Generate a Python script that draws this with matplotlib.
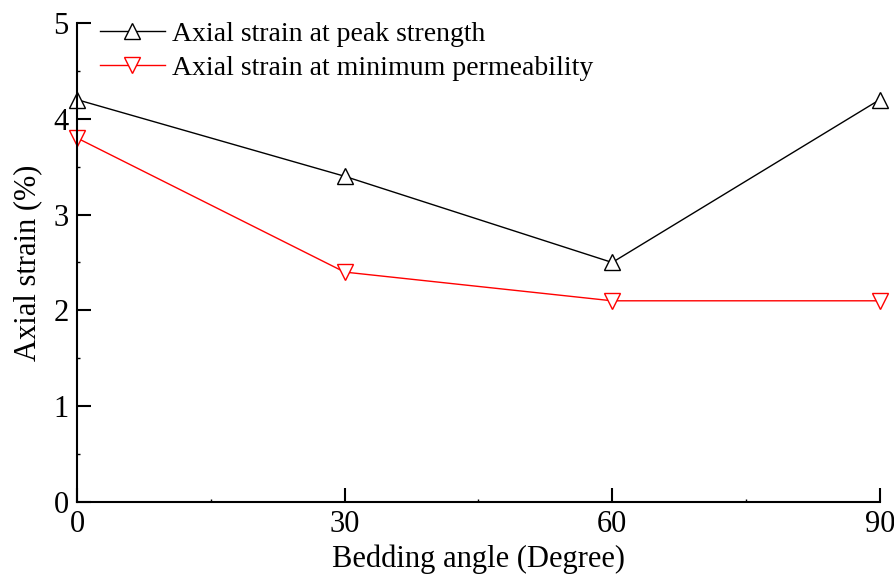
import matplotlib
matplotlib.use('Agg')
import matplotlib.pyplot as plt
from matplotlib.ticker import MultipleLocator

plt.rcParams['font.family'] = ['Liberation Serif', 'DejaVu Serif']

# 층리 각도별 축변형률
angles = [0, 30, 60, 90]
strain_peak = [4.2, 3.4, 2.5, 4.2]
strain_min_perm = [3.8, 2.4, 2.1, 2.1]

fig = plt.figure(figsize=(8.95, 5.82), dpi=100)
ax = fig.add_axes([0.086, 0.1375, 0.897, 0.823])

ax.plot(angles, strain_peak, color='black', lw=1.0, marker='^', ms=12,
        mfc='white', mec='black', mew=1.0, label='Axial strain at peak strength', clip_on=False)
ax.plot(angles, strain_min_perm, color='red', lw=1.0, marker='v', ms=12,
        mfc='white', mec='red', mew=1.0, label='Axial strain at minimum permeability', clip_on=False)

ax.set_xlim(0, 90)
ax.set_ylim(0, 5)
ax.xaxis.set_major_locator(MultipleLocator(30))
ax.xaxis.set_minor_locator(MultipleLocator(15))
ax.yaxis.set_major_locator(MultipleLocator(1))
ax.yaxis.set_minor_locator(MultipleLocator(0.5))

for s in ['top', 'right']:
    ax.spines[s].set_visible(False)
for s in ['left', 'bottom']:
    ax.spines[s].set_linewidth(1.5)

ax.tick_params(which='major', direction='in', length=10, width=1.5, labelsize=22, pad=6)
ax.tick_params(which='minor', direction='in', length=2, width=1.0)

ax.set_xlabel('Bedding angle (Degree)', fontsize=22, labelpad=4)
ax.set_ylabel('Axial strain (%)', fontsize=22, labelpad=8)

# 범례 (테두리 없음)
ax.legend(loc='upper left', bbox_to_anchor=(-0.003, 1.055), frameon=False, fontsize=20,
          handlelength=2.35, handletextpad=0.25, labelspacing=0.3, borderaxespad=0.5)

plt.savefig('out.png', dpi=100)
